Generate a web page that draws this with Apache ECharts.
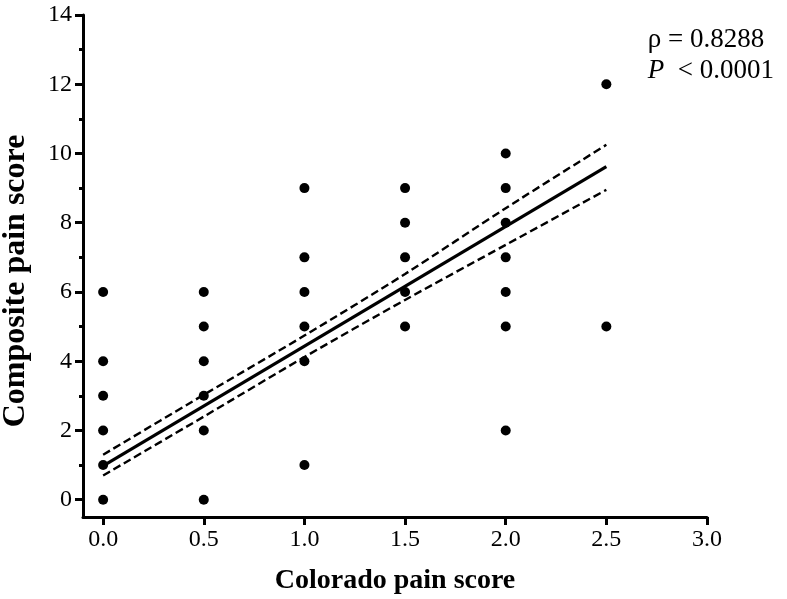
<!DOCTYPE html>
<html>
<head>
<meta charset="utf-8">
<script src="https://cdn.jsdelivr.net/npm/echarts@6/dist/echarts.min.js"></script>
<style>
html,body{margin:0;padding:0;background:#fff;}
#c{width:787px;height:599px;}
</style>
</head>
<body>
<div id="c"></div>
<script>
// Data
var coloradoScore = [0,0,0,0,0,0, 0.5,0.5,0.5,0.5,0.5,0.5, 1,1,1,1,1,1, 1.5,1.5,1.5,1.5,1.5, 2,2,2,2,2,2,2, 2.5,2.5];
var compositeScore = [0,1,2,3,4,6, 0,2,3,4,5,6, 1,4,5,6,7,9, 5,6,7,8,9, 2,5,6,7,8,9,10, 5,12];
var fitX = [0, 2.5];
var fitY = [0.98, 9.62];
var bandX = [0, 0.5, 1.0, 1.5, 2.0, 2.5];
var bandUpper = [1.30, 3.03, 4.74, 6.52, 8.42, 10.25];
var bandLower = [0.70, 2.40, 4.12, 5.77, 7.36, 8.95];
var xTicks = [0, 0.5, 1.0, 1.5, 2.0, 2.5, 3.0];
var yTicks = [0, 2, 4, 6, 8, 10, 12, 14];
var yMinorTicks = [1, 3, 5, 7, 9, 11, 13];
var xTitle = 'Colorado pain score';
var yTitle = 'Composite pain score';
var rhoText = 'ρ = 0.8288';
var pText = '< 0.0001';

function pairs(xs, ys){ return xs.map(function(x,i){ return [x, ys[i]]; }); }

var serif = '"Liberation Serif", "Times New Roman", serif';
var chart = echarts.init(document.getElementById('c'), null, {renderer:'canvas'});
chart.setOption({
  animation: false,
  backgroundColor: '#fff',
  title: {
    right: 8, top: 19,
    text: '{a|' + rhoText + '}\n{b|P}{a|  ' + pText + '}',
    textStyle: {
      align: 'right', fontWeight: 'normal',
      rich: {
        a: {fontFamily: serif, fontSize: 27, fontWeight: 'normal', color: '#000', lineHeight: 31},
        b: {fontFamily: serif, fontSize: 27, fontWeight: 'normal', fontStyle: 'italic', color: '#000', lineHeight: 31}
      }
    }
  },
  grid: {left: 83, right: 80, top: 15, bottom: 82, containLabel: false, outerBoundsMode: 'none'},
  xAxis: {
    type: 'value', min: -0.1, max: 3.0,
    name: xTitle, nameLocation: 'middle', nameGap: 50,
    nameTextStyle: {fontFamily: serif, fontSize: 28, fontWeight: 'bold', color: '#000'},
    axisLine: {show: true, onZero: false, lineStyle: {color: '#000', width: 3}},
    axisTick: {show: true, customValues: xTicks, length: 8, lineStyle: {color: '#000', width: 3}},
    axisLabel: {customValues: xTicks, margin: 11, fontFamily: serif, fontSize: 24, color: '#000',
      formatter: function(v){ return v.toFixed(1); }},
    splitLine: {show: false}
  },
  yAxis: [{
    type: 'value', min: -0.5, max: 14,
    name: yTitle, nameLocation: 'middle', nameGap: 51, nameRotate: 90,
    nameTextStyle: {fontFamily: serif, fontSize: 32, fontWeight: 'bold', color: '#000', padding: [0, 30, 0, 0]},
    axisLine: {show: true, onZero: false, lineStyle: {color: '#000', width: 3}},
    axisTick: {show: true, customValues: yTicks, length: 8, lineStyle: {color: '#000', width: 3}},
    axisLabel: {customValues: yTicks, margin: 11, fontFamily: serif, fontSize: 24, color: '#000'},
    splitLine: {show: false}
  }, {
    type: 'value', min: -0.5, max: 14, position: 'left',
    axisLine: {show: false, onZero: false},
    axisTick: {show: true, customValues: yMinorTicks, length: 4, lineStyle: {color: '#000', width: 3}},
    axisLabel: {show: false},
    splitLine: {show: false}
  }],
  series: [{
    type: 'scatter',
    data: pairs(coloradoScore, compositeScore),
    symbol: 'circle', symbolSize: 10,
    itemStyle: {color: '#000', opacity: 1},
    z: 3
  }, {
    type: 'line', data: pairs(fitX, fitY), showSymbol: false, symbol: 'none',
    lineStyle: {color: '#000', width: 3.2}, z: 4
  }, {
    type: 'line', data: pairs(bandX, bandUpper), showSymbol: false, symbol: 'none', smooth: 0.3,
    lineStyle: {color: '#000', width: 2.4, type: [8, 4]}, z: 4
  }, {
    type: 'line', data: pairs(bandX, bandLower), showSymbol: false, symbol: 'none', smooth: 0.3,
    lineStyle: {color: '#000', width: 2.4, type: [8, 4]}, z: 4
  }]
});
</script>
</body>
</html>
